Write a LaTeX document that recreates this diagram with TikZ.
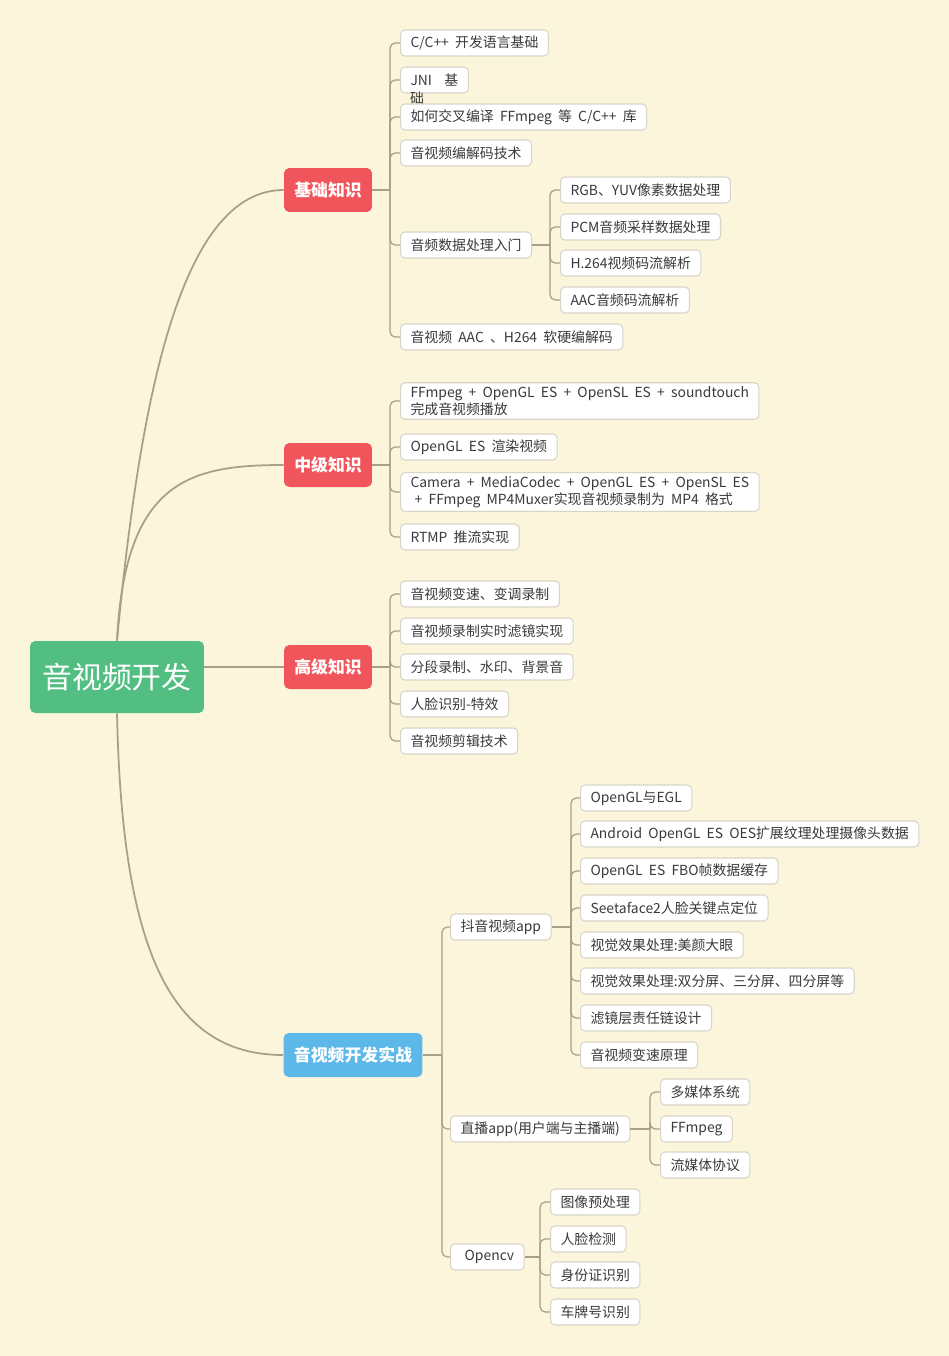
\documentclass[tikz,border=0pt]{standalone}
\usepackage{fontspec}
\setmainfont[WordSpace=2]{Noto Sans CJK SC}
\usetikzlibrary{positioning}
\definecolor{Paper}{HTML}{FBF5DC}
\definecolor{Ink}{HTML}{3A3A3A}
\definecolor{Stem}{HTML}{A59F8C}
\definecolor{Edge}{HTML}{D8D4C8}
\definecolor{Green}{HTML}{52BE82}
\definecolor{Red}{HTML}{F0555B}
\definecolor{Sky}{HTML}{5BB8E8}

\begin{document}
\begin{tikzpicture}[x=0.02cm,y=-0.02cm,font=\fontsize{7.9}{9.8}\selectfont,leaf/.style={draw=Edge,fill=white,text=Ink,rounded corners=2.5pt,anchor=west,align=left,minimum height=0.52cm,inner xsep=0.2cm,inner ysep=2pt,line width=0.6pt},topic/.style={fill=Red,text=white,rounded corners=3pt,minimum width=1.76cm,minimum height=0.88cm,font=\fontsize{9.6}{11}\selectfont\bfseries},link/.style={draw=Stem,line width=0.7pt},elbow/.style={link,rounded corners=3pt},trunk/.style={draw=Stem,line width=1pt}]
 \useasboundingbox[fill=Paper] (0,0) rectangle (949,1356);
 \node[fill=Green,text=white,rounded corners=3pt,minimum width=3.48cm,minimum height=1.44cm,font=\fontsize{17}{20}\selectfont] (root) at (117,677) {音视频开发};
 \node[topic] (jc) at (328,190) {基础知识};
 \node[topic] (zj) at (328,465) {中级知识};
 \node[topic] (gj) at (328,667) {高级知识};
 \node[topic,fill=Sky,minimum width=2.78cm] (sz) at (353,1055) {音视频开发实战};
 \draw[trunk] (root.north) .. controls (140,400) and (180,190) .. (jc.west);
 \draw[trunk] (root.north) .. controls (125,480) and (190,465) .. (zj.west);
 \draw[trunk] (root.east |- gj.west) -- (gj.west);
 \draw[trunk] (root.south) .. controls (122,950) and (170,1055) .. (sz.west);
 % basics
 \node[leaf] (cpp) at (400,43) {C/C++ 开发语言基础};
 \node[leaf] (jni) at (400,80) {JNI\ \ 基};
 \node[text=Ink,inner sep=0pt] (jnitail) at (417,98) {础};
 \node[leaf] (cross) at (400,117) {如何交叉编译 FFmpeg 等 C/C++ 库};
 \node[leaf] (codec) at (400,153) {音视频编解码技术};
 \node[leaf] (audio) at (400,245) {音频数据处理入门};
 \node[leaf] (hw) at (400,337) {音视频 AAC 、H264 软硬编解码};
 \node[leaf] (rgb) at (560,190) {RGB、YUV像素数据处理};
 \node[leaf] (pcm) at (560,227) {PCM音频采样数据处理};
 \node[leaf] (h264) at (560,263) {H.264视频码流解析};
 \node[leaf] (aac) at (560,300) {AAC音频码流解析};
 \coordinate (jcj) at (390,190); \coordinate (audioj) at (550,245);
 \draw[link] (jc.east)--(jcj); \draw[link] (audio.east)--(audioj);
 \draw[elbow] (jcj) |- (cpp.west); \draw[elbow] (jcj) |- (jni.west); \draw[elbow] (jcj) |- (cross.west);
 \draw[elbow] (jcj) |- (codec.west); \draw[elbow] (jcj) |- (audio.west); \draw[elbow] (jcj) |- (hw.west);
 \draw[elbow] (audioj) |- (rgb.west); \draw[elbow] (audioj) |- (pcm.west);
 \draw[elbow] (audioj) |- (h264.west); \draw[elbow] (audioj) |- (aac.west);
 % intermediate
 \node[leaf] (play) at (400,401) {FFmpeg + OpenGL ES + OpenSL ES + soundtouch\\完成音视频播放};
 \node[leaf] (render) at (400,447) {OpenGL ES 渲染视频};
 \node[leaf] (record) at (400,492) {Camera + MediaCodec + OpenGL ES + OpenSL ES\\\hspace{0.3em}+ FFmpeg MP4Muxer实现音视频录制为 MP4 格式};
 \node[leaf] (rtmp) at (400,537) {RTMP 推流实现};
 \coordinate (zjj) at (390,465);
 \draw[link] (zj.east)--(zjj);
 \draw[elbow] (zjj) |- (play.west); \draw[elbow] (zjj) |- (render.west);
 \draw[elbow] (zjj) |- (record.west); \draw[elbow] (zjj) |- (rtmp.west);
 % advanced
 \node[leaf] (speed) at (400,594) {音视频变速、变调录制};
 \node[leaf] (filter) at (400,631) {音视频录制实时滤镜实现};
 \node[leaf] (mark) at (400,667) {分段录制、水印、背景音};
 \node[leaf] (face) at (400,704) {人脸识别-特效};
 \node[leaf] (edit) at (400,741) {音视频剪辑技术};
 \coordinate (gjj) at (390,667);
 \draw[link] (gj.east)--(gjj);
 \draw[elbow] (gjj) |- (speed.west); \draw[elbow] (gjj) |- (filter.west); \draw[elbow] (gjj) |- (mark.west);
 \draw[elbow] (gjj) |- (face.west); \draw[elbow] (gjj) |- (edit.west);
 % practice
 \node[leaf] (douyin) at (450,927) {抖音视频app};
 \node[leaf] (live) at (450,1129) {直播app(用户端与主播端)};
 \node[leaf] (cv) at (450,1257) {\hspace{0.3em}Opencv};
 \node[leaf] (egl) at (580,798) {OpenGL与EGL};
 \node[leaf] (oes) at (580,834) {Android OpenGL ES OES扩展纹理处理摄像头数据};
 \node[leaf] (fbo) at (580,871) {OpenGL ES FBO帧数据缓存};
 \node[leaf] (seeta) at (580,908) {Seetaface2人脸关键点定位};
 \node[leaf] (beauty) at (580,945) {视觉效果处理:美颜大眼};
 \node[leaf] (split) at (580,981) {视觉效果处理:双分屏、三分屏、四分屏等};
 \node[leaf] (chain) at (580,1018) {滤镜层责任链设计};
 \node[leaf] (tempo) at (580,1055) {音视频变速原理};
 \node[leaf] (media) at (660,1092) {多媒体系统};
 \node[leaf] (ff) at (660,1129) {FFmpeg};
 \node[leaf] (proto) at (660,1165) {流媒体协议};
 \node[leaf] (prep) at (550,1202) {图像预处理};
 \node[leaf] (detect) at (550,1239) {人脸检测};
 \node[leaf] (idcard) at (550,1275) {身份证识别};
 \node[leaf] (plate) at (550,1312) {车牌号识别};
 \coordinate (szj) at (442,1055); \coordinate (dyj) at (571,927);
 \coordinate (livej) at (650,1129); \coordinate (cvj) at (540,1257);
 \draw[link] (sz.east)--(szj); \draw[link] (douyin.east)--(dyj);
 \draw[link] (live.east)--(livej); \draw[link] (cv.east)--(cvj);
 \draw[elbow] (szj) |- (douyin.west); \draw[elbow] (szj) |- (live.west); \draw[elbow] (szj) |- (cv.west);
 \draw[elbow] (dyj) |- (egl.west); \draw[elbow] (dyj) |- (oes.west); \draw[elbow] (dyj) |- (fbo.west);
 \draw[elbow] (dyj) |- (seeta.west); \draw[elbow] (dyj) |- (beauty.west); \draw[elbow] (dyj) |- (split.west);
 \draw[elbow] (dyj) |- (chain.west); \draw[elbow] (dyj) |- (tempo.west);
 \draw[elbow] (livej) |- (media.west); \draw[elbow] (livej) |- (ff.west); \draw[elbow] (livej) |- (proto.west);
 \draw[elbow] (cvj) |- (prep.west); \draw[elbow] (cvj) |- (detect.west);
 \draw[elbow] (cvj) |- (idcard.west); \draw[elbow] (cvj) |- (plate.west);
\end{tikzpicture}
\end{document}
